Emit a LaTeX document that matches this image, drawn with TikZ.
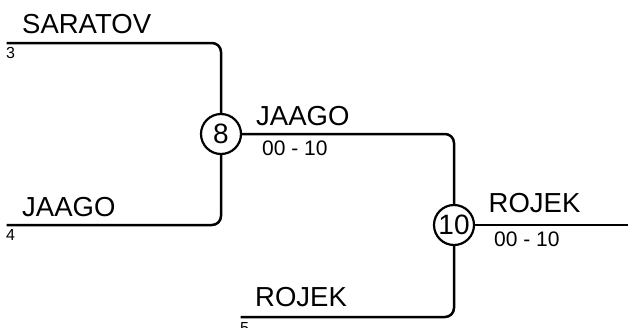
\documentclass[tikz,border=0pt]{standalone}
\usepackage{fontspec}
\setmainfont{Liberation Sans}
\begin{document}
\begin{tikzpicture}[x=1pt,y=-1pt,
  wire/.style={line width=2.5pt,rounded corners=9pt},
  match/.style={circle,draw,line width=2.2pt,minimum size=40pt,inner sep=0pt,font=\fontsize{28}{28}\selectfont},
  team/.style={anchor=base west,inner sep=0pt,font=\fontsize{27.5}{27.5}\selectfont},
  score/.style={anchor=base west,inner sep=0pt,font=\fontsize{21}{21}\selectfont},
  seed/.style={anchor=base west,inner sep=0pt,font=\fontsize{16}{16}\selectfont}]
\useasboundingbox (0,0) rectangle (628,327);
% match nodes
\node[match] (n8) at (221,134) {8};
\node[match] (n10) at (454,225) {10};
% free ends
\coordinate (s3) at (6.5,43);
\coordinate (s4) at (6.5,225);
\coordinate (s5) at (240.5,317);
\coordinate (fin) at (640,225);
% connectors
\draw[wire] (s3) -| (n8);
\draw[wire] (s4) -| (n8);
\draw[wire] (n8) -| (n10);
\draw[wire] (s5) -| (n10);
\draw[wire] (n10) -- (fin);
% labels
\node[team] (t1) at (22,33) {SARATOV};
\node[seed] (k1) at (6,58.5) {3};
\node[team] (t2) at (22,216.5) {JAAGO};
\node[seed] (k2) at (6,240.5) {4};
\node[team] (t3) at (256,125) {JAAGO};
\node[score] (r3) at (262,155) {00 - 10};
\node[team] (t4) at (255,306.5) {ROJEK};
\node[seed] (k4) at (240,333) {5};
\node[team] (t5) at (488.5,212.5) {ROJEK};
\node[score] (r5) at (494,246.5) {00 - 10};
\end{tikzpicture}
\end{document}
